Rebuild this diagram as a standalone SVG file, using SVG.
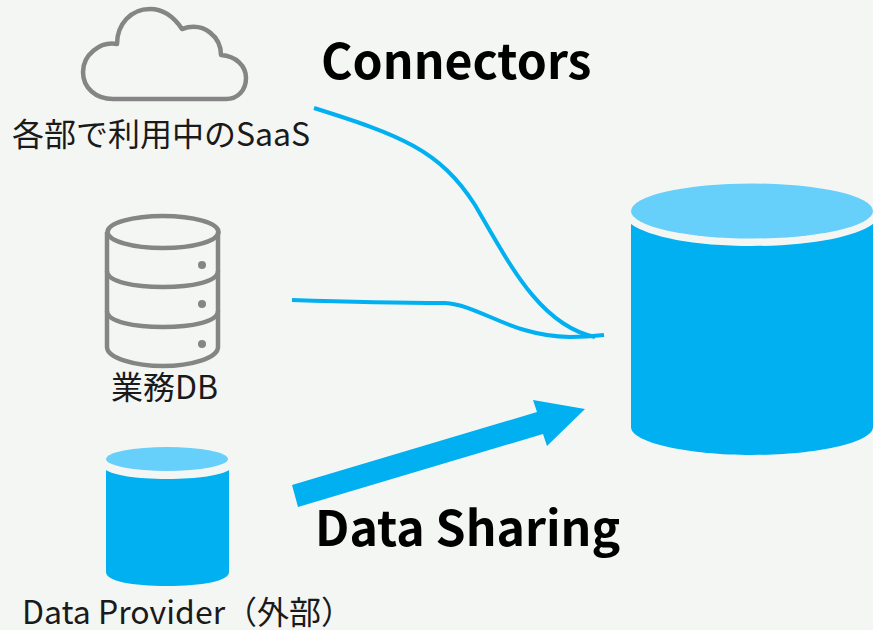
<svg xmlns="http://www.w3.org/2000/svg" width="873" height="630" viewBox="0 0 873 630">
<style>
.lbl{font-family:"Noto Sans CJK JP","Noto Sans",sans-serif;font-size:32px;fill:#1a1a1a}
.head{font-family:"Noto Sans CJK JP","Noto Sans",sans-serif;font-size:48.200px;font-weight:700;fill:#000}
.gray{fill:none;stroke:#858585;stroke-width:4.500;stroke-linejoin:round}
.conn{fill:none;stroke:#00b0f0;stroke-width:4}
.blue{fill:#00b0f0}
.top{fill:#66cffa}
</style>
<rect width="873" height="630" fill="#f4f6f4"/>
<g id="saas">
<path class="gray" d="M113 99H226C238 99 246 90 246 78C246 66 236 56 221 55C221 38 205 21 182 29C172 14 160 9 150 9C131 9 117 24 117 44C100 41 83 55 83 72C83 88 96 99 113 99Z"/>
<text class="lbl" x="12" y="146">各部で利用中のSaaS</text>
</g>
<g id="db">
<path class="gray" d="M107 232V347C107 358 135 366 163 366C191 366 218 358 218 347V232"/>
<ellipse class="gray" cx="163" cy="232" rx="55.500" ry="16"/>
<path class="gray" d="M107 271C107 282 135 287 163 287C191 287 218 282 218 271"/>
<path class="gray" d="M107 311C107 322 135 327 163 327C191 327 218 322 218 311"/>
<g fill="#858585"><circle cx="202" cy="265" r="4"/><circle cx="202" cy="304" r="4"/><circle cx="202" cy="344" r="4"/></g>
<text class="lbl" x="111" y="399">業務DB</text>
</g>
<g id="provider">
<path class="blue" d="M106 470V572C106 581 132 586 167 586C202 586 229 581 229 572V470C222 475 198 479 167 479C136 479 113 475 106 470Z"/>
<ellipse class="top" cx="167" cy="459" rx="61" ry="12"/>
<text class="lbl" x="22" y="624">Data Provider（外部）</text>
</g>
<g id="warehouse">
<path class="blue" d="M631 224V427C631 443 690 455 752 455C814 455 873 443 873 427V224C855 237 810 246 752 246C694 246 649 237 631 224Z"/>
<ellipse class="top" cx="752" cy="211" rx="121" ry="27.500"/>
</g>
<g id="connectors">
<path class="conn" d="M314 108C400 135 440 150 475 205C510 265 540 325 595 337"/>
<path class="conn" d="M292 300C350 302 400 303 445 303C480 305 510 336 570 337C585 337 595 336 604 335"/>
<path class="blue" d="M292 485L537 412L533 400L585 409L547 446L543 434L298 507Z"/>
</g>
<g id="titles">
<text class="head" x="321" y="79">Connectors</text>
<text class="head" x="315" y="546">Data Sharing</text>
</g>
</svg>
